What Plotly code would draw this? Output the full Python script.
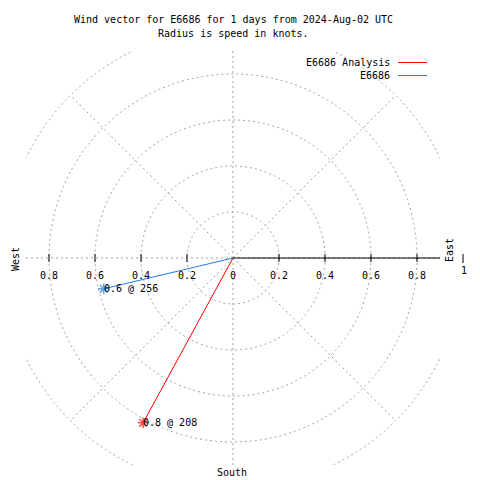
import numpy as np
import plotly.graph_objects as go

# ---- data ----
series_names = ["E6686 Analysis", "E6686"]
speeds = [0.816, 0.578]          # knots
directions = [208.6, 256.6]      # degrees (compass, clockwise from north)
series_colors = ["#ff0000", "#1a7ee8"]

radial_tick_vals = [-0.8, -0.6, -0.4, -0.2, 0.0, 0.2, 0.4, 0.6, 0.8]
radial_tick_text = ["0.8", "0.6", "0.4", "0.2", "0", "0.2", "0.4", "0.6", "0.8"]
grid_radii = [0.2, 0.4, 0.6, 0.8, 1.0]
spoke_angles = [0, 45, 90, 135, 180, 225, 270, 315]
title_lines = ["Wind vector for E6686 for 1 days from 2024-Aug-02 UTC",
               "Radius is speed in knots."]

FONT = "DejaVu Sans Mono"
GRID = "#a0a0a0"

# page body has an 8px default margin: figure is offset by OFF pixels
OFF = 8
FIG = 480 - OFF
# plot area geometry (reference pixels)
L, T, W, H = 26, 51, 414, 414
def px(xp):
    return (xp - L) / W
def py(yp):
    return (T + H - yp) / H

fig = go.Figure()

shapes = []
R_MAX = max(grid_radii)
# grid circles
for r in grid_radii:
    shapes.append(dict(type="circle", xref="x", yref="y", x0=-r, y0=-r, x1=r, y1=r,
                       line=dict(color=GRID, width=1, dash="2px,3px"), layer="below"))
# radial spokes (to outer grid circle)
for a in spoke_angles:
    rad = np.radians(a)
    shapes.append(dict(type="line", xref="x", yref="y", x0=0, y0=0,
                       x1=R_MAX * np.cos(rad), y1=R_MAX * np.sin(rad),
                       line=dict(color=GRID, width=1, dash="2px,3px"), layer="below"))
# east axis line
shapes.append(dict(type="line", xref="x", yref="y", x0=0, y0=0, x1=0.9, y1=0,
                   line=dict(color="black", width=1), layer="above"))
# tick marks
for v in radial_tick_vals:
    if v == 0:
        continue
    shapes.append(dict(type="line", xref="x", yref="paper", x0=v, x1=v,
                       y0=0.5 - 4 / H, y1=0.5 + 4 / H,
                       line=dict(color="black", width=1), layer="above"))

annotations = []
for name, spd, d, col in zip(series_names, speeds, directions, series_colors):
    th = np.radians(d)
    x = [0, spd * np.sin(th)]
    y = [0, spd * np.cos(th)]
    fig.add_trace(go.Scatter(x=x, y=y, mode="lines+markers", name=name,
                             line=dict(color=col, width=1),
                             marker=dict(symbol=["circle", "asterisk-open"], size=[0, 9],
                                         color=col, line=dict(color=col, width=1.5)),
                             showlegend=False, hoverinfo="skip"))
    annotations.append(dict(x=x[1], y=y[1], xref="x", yref="y", text=f"{spd:.1f} @ {int(d)}",
                            showarrow=False, xanchor="left", yanchor="middle", xshift=-2,
                            font=dict(family=FONT, size=10, color="black")))

# legend (gnuplot-style: text then line sample)
for i, (name, col) in enumerate(zip(series_names, series_colors)):
    ypix = 62.5 + 13 * i
    annotations.append(dict(x=px(392), y=py(ypix), xref="paper", yref="paper", text=name,
                            showarrow=False, xanchor="right", yanchor="middle",
                            font=dict(family=FONT, size=10, color="black")))
    shapes.append(dict(type="line", xref="paper", yref="paper", x0=px(398), x1=px(427),
                       y0=py(ypix), y1=py(ypix), line=dict(color=col, width=1)))

# title
for i, t in enumerate(title_lines):
    annotations.append(dict(x=px(233), y=py(19 + 14 * i), xref="paper", yref="paper", text=t,
                            showarrow=False, xanchor="center", yanchor="middle",
                            font=dict(family=FONT, size=10, color="black")))

# compass labels
annotations.append(dict(x=px(15), y=py(259), xref="paper", yref="paper", text="West",
                        textangle=-90, showarrow=False, xanchor="center", yanchor="middle",
                        font=dict(family=FONT, size=10, color="black")))
annotations.append(dict(x=px(449), y=py(250), xref="paper", yref="paper", text="East",
                        textangle=-90, showarrow=False, xanchor="center", yanchor="middle",
                        font=dict(family=FONT, size=10, color="black")))
annotations.append(dict(x=px(463.5), y=py(270.5), xref="paper", yref="paper", text="1",
                        showarrow=False, xanchor="center", yanchor="middle",
                        font=dict(family=FONT, size=10, color="black")))
shapes.append(dict(type="line", xref="paper", yref="paper", x0=px(463), x1=px(463),
                   y0=py(254), y1=py(263), line=dict(color="black", width=1)))
annotations.append(dict(x=px(231.5), y=py(472.5), xref="paper", yref="paper", text="South",
                        showarrow=False, xanchor="center", yanchor="middle",
                        font=dict(family=FONT, size=10, color="black")))

fig.update_layout(
    width=FIG, height=FIG,
    margin=dict(l=L - OFF, r=FIG - (L - OFF) - W, t=T - OFF, b=FIG - (T - OFF) - H, pad=0),
    paper_bgcolor="white", plot_bgcolor="white",
    showlegend=False,
    shapes=shapes, annotations=annotations,
    xaxis=dict(range=[-0.9, 0.9], anchor="free", position=0.5,
               tickvals=radial_tick_vals, ticktext=radial_tick_text,
               ticks="", showgrid=False, zeroline=False, showline=False,
               tickfont=dict(family=FONT, size=10, color="black"),
               ticklabelstandoff=10, fixedrange=True),
    yaxis=dict(range=[-0.9, 0.9], visible=False, showgrid=False, zeroline=False,
               fixedrange=True),
)

fig.write_html("out.html")
